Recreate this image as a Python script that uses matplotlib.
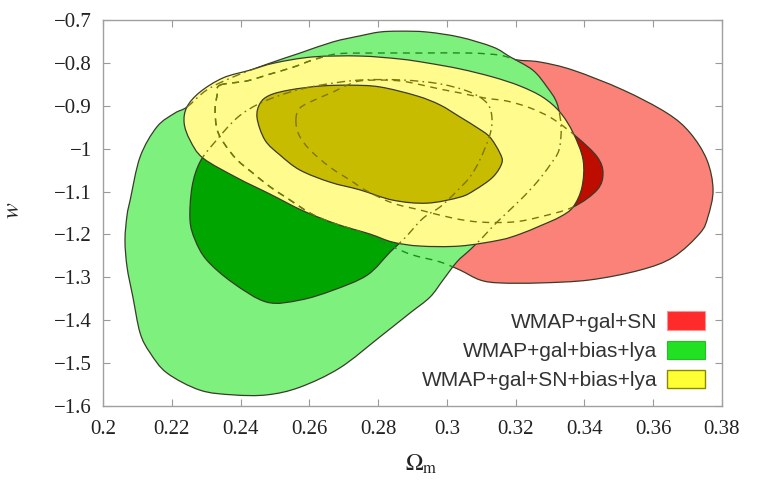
import numpy as np
import matplotlib
matplotlib.use('Agg')
import matplotlib.pyplot as plt
from matplotlib.patches import PathPatch, Patch
from matplotlib.path import Path
from matplotlib.ticker import MultipleLocator, FuncFormatter

plt.rcParams['mathtext.fontset'] = 'stix'

# confidence contours in the (Omega_m, w) plane, traced outlines
# WMAP+gal+SN
red_outer_om = [0.2340, 0.2419, 0.2486, 0.2553, 0.2611, 0.2680, 0.2776, 0.2922, 0.3067, 0.3154,
                0.3204, 0.3271, 0.3367, 0.3512, 0.3640, 0.3707, 0.3756, 0.3774, 0.3759, 0.3736,
                0.3658, 0.3562, 0.3416, 0.3271, 0.3154, 0.3096, 0.3038, 0.2980, 0.2901, 0.2843,
                0.2747, 0.2660, 0.2602, 0.2535, 0.2486, 0.2436, 0.2390, 0.2355, 0.2332, 0.2326, 0.2332]
red_outer_w = [-0.852, -0.842, -0.826, -0.810, -0.793, -0.779, -0.777, -0.777, -0.777, -0.782,
               -0.793, -0.798, -0.817, -0.863, -0.917, -0.963, -1.026, -1.096, -1.159, -1.197,
               -1.253, -1.283, -1.306, -1.313, -1.313, -1.306, -1.283, -1.264, -1.248, -1.229,
               -1.194, -1.171, -1.150, -1.115, -1.089, -1.057, -1.026, -0.991, -0.956, -0.910, -0.875]
red_inner_om = [0.2561, 0.2573, 0.2622, 0.2669, 0.2710, 0.2747, 0.2805, 0.2864, 0.2913, 0.2980,
                0.3038, 0.3111, 0.3175, 0.3242, 0.3309, 0.3378, 0.3437, 0.3454, 0.3437, 0.3367,
                0.3271, 0.3192, 0.3096, 0.3018, 0.2922, 0.2843, 0.2768, 0.2718, 0.2660, 0.2602, 0.2570]
red_inner_w = [-0.933, -0.905, -0.884, -0.868, -0.852, -0.842, -0.840, -0.842, -0.849, -0.861,
               -0.870, -0.882, -0.889, -0.905, -0.931, -0.973, -1.019, -1.057, -1.096, -1.136,
               -1.159, -1.171, -1.171, -1.162, -1.143, -1.127, -1.099, -1.073, -1.043, -1.003, -0.968]

# WMAP+gal+bias+lya
green_outer_om = [0.2244, 0.2302, 0.2378, 0.2477, 0.2573, 0.2669, 0.2747, 0.2805, 0.2864, 0.2942,
                  0.3038, 0.3134, 0.3184, 0.3250, 0.3291, 0.3320, 0.3332, 0.3326, 0.3300, 0.3262,
                  0.3213, 0.3146, 0.3105, 0.3067, 0.3029, 0.2989, 0.2951, 0.2893, 0.2805, 0.2689,
                  0.2573, 0.2477, 0.2378, 0.2282, 0.2186, 0.2137, 0.2108, 0.2087, 0.2070, 0.2064,
                  0.2070, 0.2079, 0.2108, 0.2157, 0.2209]
green_outer_w = [-0.903, -0.863, -0.833, -0.803, -0.777, -0.751, -0.737, -0.728, -0.726, -0.728,
                 -0.740, -0.763, -0.786, -0.817, -0.856, -0.894, -0.949, -1.003, -1.038, -1.078,
                 -1.120, -1.171, -1.206, -1.236, -1.264, -1.306, -1.346, -1.383, -1.439, -1.511,
                 -1.556, -1.574, -1.574, -1.563, -1.523, -1.476, -1.430, -1.346, -1.276, -1.213,
                 -1.155, -1.120, -1.019, -0.949, -0.917]
green_inner_om = [0.2282, 0.2326, 0.2390, 0.2457, 0.2544, 0.2631, 0.2747, 0.2872, 0.2980, 0.3067,
                  0.3117, 0.3131, 0.3125, 0.3096, 0.3067, 0.3024, 0.2980, 0.2931, 0.2878, 0.2835,
                  0.2768, 0.2669, 0.2573, 0.2477, 0.2378, 0.2302, 0.2268, 0.2253, 0.2259]
green_inner_w = [-1.031, -0.984, -0.928, -0.894, -0.868, -0.852, -0.840, -0.840, -0.849, -0.868,
                 -0.894, -0.928, -0.968, -1.026, -1.066, -1.103, -1.136, -1.162, -1.208, -1.241,
                 -1.295, -1.330, -1.353, -1.358, -1.313, -1.260, -1.213, -1.166, -1.089]

# WMAP+gal+SN+bias+lya
yellow_outer_om = [0.2244, 0.2282, 0.2349, 0.2427, 0.2500, 0.2611, 0.2747, 0.2864, 0.2942, 0.3038,
                   0.3134, 0.3213, 0.3279, 0.3329, 0.3367, 0.3396, 0.3393, 0.3367, 0.3329, 0.3271,
                   0.3213, 0.3154, 0.3038, 0.2922, 0.2843, 0.2776, 0.2680, 0.2582, 0.2486, 0.2390,
                   0.2291, 0.2253, 0.2236]
yellow_outer_w = [-0.903, -0.868, -0.835, -0.817, -0.800, -0.786, -0.784, -0.791, -0.800, -0.814,
                  -0.833, -0.854, -0.880, -0.915, -0.963, -1.026, -1.089, -1.136, -1.159, -1.180,
                  -1.199, -1.213, -1.227, -1.227, -1.218, -1.199, -1.176, -1.145, -1.106, -1.068,
                  -1.022, -0.980, -0.940]
yellow_inner_om = [0.2448, 0.2457, 0.2486, 0.2544, 0.2631, 0.2718, 0.2805, 0.2913, 0.2980, 0.3038,
                   0.3090, 0.3125, 0.3154, 0.3160, 0.3134, 0.3082, 0.3038, 0.2942, 0.2843, 0.2747,
                   0.2660, 0.2573, 0.2515, 0.2471]
yellow_inner_w = [-0.928, -0.894, -0.875, -0.863, -0.854, -0.852, -0.856, -0.877, -0.898, -0.926,
                  -0.952, -0.973, -1.010, -1.033, -1.066, -1.096, -1.113, -1.127, -1.120, -1.096,
                  -1.078, -1.050, -1.015, -0.980]

labels = ['WMAP+gal+SN', 'WMAP+gal+bias+lya', 'WMAP+gal+SN+bias+lya']

fig = plt.figure(figsize=(7.6, 4.88), dpi=100)
ax = fig.add_axes([0.1355, 0.168, 0.8145, 0.791])


def closed_path(om, w):
    # closed curve through the outline points, cubic segments between them
    p = np.column_stack([om, w])
    n = len(p)
    verts = [p[0]]
    codes = [Path.MOVETO]
    for i in range(n):
        a, b = p[i - 1], p[i]
        c, d = p[(i + 1) % n], p[(i + 2) % n]
        verts += [b + (c - a) / 6, c - (d - b) / 6, c]
        codes += [Path.CURVE4] * 3
    codes[-1] = Path.CURVE4
    return Path(np.array(verts), codes)


def region(om, w, face, z):
    pp = PathPatch(closed_path(om, w), facecolor=face, edgecolor='#3a3a2a',
                   lw=0.9, zorder=z)
    ax.add_patch(pp)
    return pp


def hidden(om, w, clip, color, ls):
    # part of an outline that sits under a later contour
    pp = PathPatch(closed_path(om, w), facecolor='none', edgecolor=color,
                   ls=ls, lw=1.0, zorder=8)
    ax.add_patch(pp)
    pp.set_clip_path(clip)


region(red_outer_om, red_outer_w, '#fa8278', 1)
region(red_inner_om, red_inner_w, '#bd0d00', 2)
g_out = region(green_outer_om, green_outer_w, '#7df07d', 3)
region(green_inner_om, green_inner_w, '#00a500', 4)
y_out = region(yellow_outer_om, yellow_outer_w, '#fffb8c', 5)
region(yellow_inner_om, yellow_inner_w, '#c8bc00', 6)

dashed = (0, (5, 4))
dashdot = (0, (6, 3, 1.2, 3))
hidden(red_outer_om, red_outer_w, g_out, '#1f8a1f', dashed)
hidden(red_outer_om, red_outer_w, y_out, '#7d7410', dashed)
hidden(red_inner_om, red_inner_w, y_out, '#7d7410', dashed)
hidden(green_outer_om, green_outer_w, y_out, '#7d7410', dashdot)
hidden(green_inner_om, green_inner_w, y_out, '#7d7410', dashdot)

ax.set_xlim(0.2, 0.38)
ax.set_ylim(-1.6, -0.7)
ax.xaxis.set_major_locator(MultipleLocator(0.02))
ax.yaxis.set_major_locator(MultipleLocator(0.1))
fmt = FuncFormatter(lambda v, pos: ('%g' % round(v, 3)).replace('-', '\u2212'))
ax.xaxis.set_major_formatter(fmt)
ax.yaxis.set_major_formatter(fmt)
ax.tick_params(direction='in', top=True, right=True, length=5, width=0.8,
               color='#9a9a9a', labelsize=15, labelcolor='#222222')
ax.tick_params(axis='x', pad=10)
ax.tick_params(axis='y', pad=8)
for lab in ax.get_xticklabels() + ax.get_yticklabels():
    lab.set_family('Liberation Serif')
for sp in ax.spines.values():
    sp.set_color('#a0a0a0')
    sp.set_linewidth(1.0)

ax.set_xlabel(r'$\Omega_{\rm m}$', fontsize=17, color='#222222')
ax.xaxis.set_label_coords(0.515, -0.12)
ax.set_ylabel(r'$w$', fontsize=17, color='#222222')
ax.yaxis.set_label_coords(-0.128, 0.508)

handles = [Patch(facecolor='#ff2a2a', edgecolor='#ff9090', ls='--', lw=0.8),
           Patch(facecolor='#22e022', edgecolor='#22c022', lw=0.8),
           Patch(facecolor='#ffff33', edgecolor='#8a8a00', lw=1.0)]
ax.legend(handles, labels, loc='lower right', bbox_to_anchor=(0.9725, 0.041),
          frameon=False, markerfirst=False, borderpad=0, borderaxespad=0,
          handlelength=1.8, handleheight=1.0, handletextpad=0.5, labelspacing=0.42,
          prop={'family': 'Liberation Sans', 'size': 15}, labelcolor='#333333')

fig.savefig('out.png', dpi=100)
